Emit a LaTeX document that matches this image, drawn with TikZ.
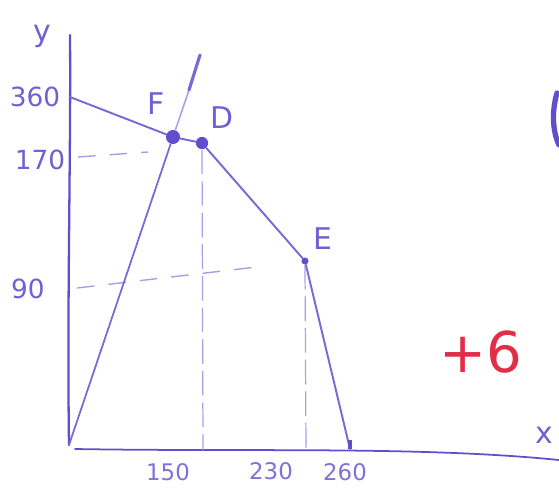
\documentclass[tikz,border=0pt]{standalone}
\usepackage{fontspec}
\setmainfont{DejaVu Sans}
\definecolor{pen}{RGB}{98,78,205}
\definecolor{penlight}{RGB}{170,158,230}
\definecolor{redpen}{RGB}{225,45,70}
\tikzset{
  axisline/.style={draw=pen, line width=1.3pt, line cap=round},
  curve/.style={draw=pen!85, line width=1.1pt, line cap=round},
  guide/.style={draw=penlight, line width=0.8pt, dash pattern=on 10pt off 8pt},
  vguide/.style={draw=penlight, line width=0.7pt, dash pattern=on 14pt off 4pt},
  lbl/.style={text=pen!90, font=\fontsize{17}{18}\selectfont, inner sep=0pt},
  tick/.style={text=pen!80, font=\fontsize{13}{14}\selectfont, inner sep=0pt},
  dot/.style={circle, fill=pen, inner sep=0pt, minimum size=8pt},
}
\begin{document}
\begin{tikzpicture}[x=0.02cm, y=-0.02cm]
\useasboundingbox (0,0) rectangle (559,488);
% points
\coordinate (ytop) at (70,35);
\coordinate (O) at (69,445);
\coordinate (xend) at (559,460);
\coordinate (A360) at (70,97);
\node[dot] (F) at (173,137) {};
\node[dot, minimum size=7pt] (D) at (202,143) {};
\node[dot, minimum size=4pt] (E) at (305,261) {};
\coordinate (P260) at (350,449);
\coordinate (Ftop) at (200,55);
\coordinate (Fmid) at (189,90);
\coordinate (D0) at (203,450);
\coordinate (E0) at (306,450);
\coordinate (g170a) at (78,157);
\coordinate (g170b) at (148,152);
\coordinate (g90a) at (77,288);
\coordinate (g90b) at (265,266);
% axes
\draw[axisline] (ytop) .. controls (71,150) and (67,300) .. (O);
\draw[axisline, line width=1pt] (75,449) .. controls (250,452) and (420,446) .. (xend);
% guides
\draw[guide] (g170a) -- (g170b);
\draw[guide] (g90a) -- (g90b);
\draw[vguide] (D) -- (D0);
\draw[vguide] (E) -- (E0);
% curves
\draw[curve] (A360) -- (F) -- (D) -- (E) -- (P260);
\draw[curve, line width=1pt] (O) -- (F);
\draw[curve, draw=penlight, line width=0.9pt] (F) -- (Fmid);
\draw[curve, line width=1.8pt] (Fmid) -- (Ftop);
\draw[pen, line width=2pt] (350,440) -- (P260);
% labels
\node[lbl] (ly) at (42,36) {y};
\node[lbl] (lx) at (544,435) {x};
\node[lbl] (lF) at (156,104) {F};
\node[lbl] (lD) at (222,118) {D};
\node[lbl] (lE) at (323,239) {E};
\node[lbl, font=\fontsize{15}{16}\selectfont] (l360) at (35,97) {360};
\node[lbl, font=\fontsize{15}{16}\selectfont] (l170) at (40,160) {170};
\node[lbl, font=\fontsize{15}{16}\selectfont] (l90) at (28,289) {90};
\node[tick] (l150) at (168,472) {150};
\node[tick] (l230) at (271,471) {230};
\node[tick] (l260) at (345,472) {260};
\node[text=redpen, font=\fontsize{32}{34}\selectfont, inner sep=0pt] (mark) at (481,352) {+6};
% fragment at right edge
\draw[pen, line width=3pt, line cap=round] (557,93) .. controls (552,110) and (552,130) .. (559,145);
\end{tikzpicture}
\end{document}
